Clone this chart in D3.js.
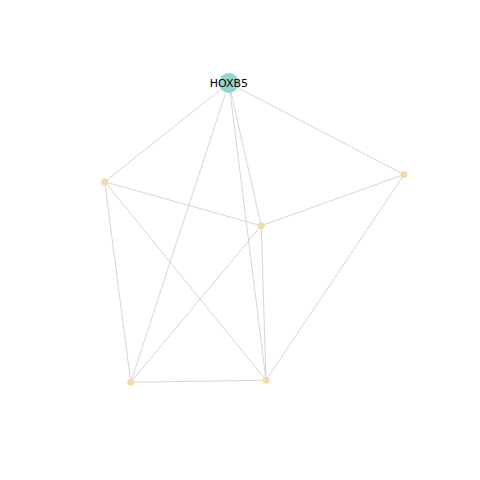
<!DOCTYPE html>
<html>
<head>
<meta charset="utf-8">
<script src="https://cdn.jsdelivr.net/npm/d3@7"></script>
<style>
  body { margin: 0; background: #fff; }
</style>
</head>
<body>
<svg id="chart" width="480" height="480"></svg>
<script>
// node list with layout coordinates (0..1) and which ones get a label
var nodeIds = ["HOXB5", "n1", "n2", "n3", "n4", "n5"];
var nodeX = [0.415, 0.0, 1.0, 0.523, 0.087, 0.539];
var nodeY = [0.0, 0.33, 0.306, 0.477, 1.0, 0.993];
var nodeLabels = ["HOXB5", "", "", "", "", ""];
var hubNodes = ["HOXB5"];

// edges as source / target pairs
var edgeSource = ["HOXB5", "HOXB5", "HOXB5", "HOXB5", "HOXB5", "n1", "n1", "n1", "n2", "n2", "n3", "n3", "n4"];
var edgeTarget = ["n1", "n2", "n3", "n4", "n5", "n3", "n4", "n5", "n3", "n5", "n4", "n5", "n5"];

var nodes = nodeIds.map(function (id, i) {
    return { id: id, x: nodeX[i], y: nodeY[i], label: nodeLabels[i] };
});
var byId = {};
nodes.forEach(function (n) { byId[n.id] = n; });
var links = edgeSource.map(function (s, i) {
    return { source: byId[s], target: byId[edgeTarget[i]] };
});

var svg = d3.select("#chart");

var x = d3.scaleLinear().domain([0, 1]).range([104.7, 404]);
var y = d3.scaleLinear().domain([0, 1]).range([83, 382.3]);

svg.append("g")
    .selectAll("line")
    .data(links)
    .enter().append("line")
    .attr("x1", d => x(d.source.x))
    .attr("y1", d => y(d.source.y))
    .attr("x2", d => x(d.target.x))
    .attr("y2", d => y(d.target.y))
    .attr("stroke", "#cccccc")
    .attr("stroke-width", 0.8);

svg.append("g")
    .selectAll("circle")
    .data(nodes)
    .enter().append("circle")
    .attr("cx", d => x(d.x))
    .attr("cy", d => y(d.y))
    .attr("r", d => hubNodes.includes(d.id) ? 10 : 3.5)
    .attr("fill", d => hubNodes.includes(d.id) ? "#97d3ce" : "#f0dba9");

svg.append("g")
    .selectAll("text")
    .data(nodes.filter(d => d.label))
    .enter().append("text")
    .attr("x", d => x(d.x))
    .attr("y", d => y(d.y))
    .attr("text-anchor", "middle")
    .attr("dominant-baseline", "central")
    .style("font-family", "DejaVu Sans, sans-serif")
    .style("font-size", "11px")
    .style("fill", "#000")
    .text(d => d.label);
</script>
</body>
</html>
